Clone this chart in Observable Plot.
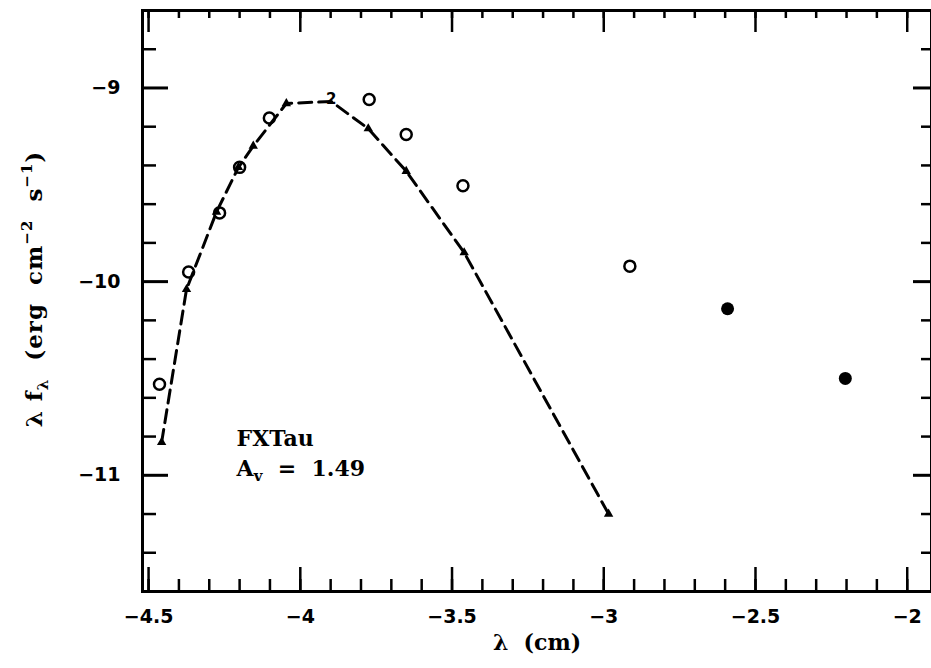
<!DOCTYPE html>
<html><head><meta charset="utf-8">
<script src="https://cdn.jsdelivr.net/npm/d3@7"></script>
<script src="https://cdn.jsdelivr.net/npm/@observablehq/plot@0.6"></script>
<style>body{margin:0;background:#fff} svg{display:block} svg text{white-space:pre}</style>
</head><body><div id="chart"></div>
<script>
// Model (dashed line) vertices
const modelX = [-4.457, -4.375, -4.276, -4.204, -4.155, -4.046, -3.898, -3.776, -3.651, -3.460, -2.984];
const modelY = [-10.83, -10.04, -9.64, -9.41, -9.30, -9.08, -9.07, -9.21, -9.43, -9.85, -11.20];
// Observed points: open circles
const openX = [-4.464, -4.368, -4.266, -4.200, -4.102, -3.773, -3.651, -3.464, -2.914];
const openY = [-10.53, -9.95, -9.645, -9.41, -9.155, -9.06, -9.24, -9.505, -9.92];
// Observed points: filled circles
const filledX = [-2.592, -2.204];
const filledY = [-10.14, -10.50];
// special "2" symbol on the model curve
const twoX = [-3.898];
const twoY = [-9.072];
// annotation
const noteX = [-4.21, -4.21];
const noteY = [-10.81, -10.965];
const noteText = ["FXTau", "Av = 1.49"];
// axes
const xDomain = [-4.52, -1.92];
const yDomain = [-11.6, -8.6];
const xMajor = [-4.5, -4, -3.5, -3, -2.5, -2];
const yMajor = [-11, -10, -9];
const xMinor = d3.range(-45, -19).map(d => d / 10);
const yMinor = [-11.4, -11.2, -10.8, -10.6, -10.4, -10.2, -9.8, -9.6, -9.4, -9.2, -8.8];
const xLabel = "λ  (cm)";
const yLabel = "λ fλ  (erg  cm−2  s−1)";

const model = modelX.map((x, i) => ({x, y: modelY[i]}));
const openPts = openX.map((x, i) => ({x, y: openY[i]}));
const filledPts = filledX.map((x, i) => ({x, y: filledY[i]}));
const twoPts = twoX.map((x, i) => ({x, y: twoY[i], t: "2"}));
const notes = noteX.map((x, i) => ({x, y: noteY[i], t: noteText[i]}));

const ML = 142, MR = 0, MT = 10, MB = 77, WIDTH = 931, HEIGHT = 668;
const W = WIDTH - ML - MR, H = HEIGHT - MT - MB;
const fmt = d => (d < 0 ? "−" : "") + Math.abs(d);

const chart = Plot.plot({
  width: WIDTH, height: HEIGHT,
  marginLeft: ML, marginRight: MR, marginTop: MT, marginBottom: MB,
  x: {domain: xDomain},
  y: {domain: yDomain},
  style: {background: "white", color: "black", fontFamily: "DejaVu Sans"},
  marks: [
    Plot.frame({stroke: "black", strokeWidth: 3}),
    // left ticks
    Plot.tickY(yMinor, {y: d => d, stroke: "black", strokeWidth: 2.5, insetRight: W - 14}),
    Plot.tickY(yMajor, {y: d => d, stroke: "black", strokeWidth: 3, insetRight: W - 26}),
    // right ticks
    Plot.tickY(yMinor, {y: d => d, stroke: "black", strokeWidth: 2.5, insetLeft: W - 10}),
    Plot.tickY(yMajor, {y: d => d, stroke: "black", strokeWidth: 3, insetLeft: W - 18}),
    // bottom ticks
    Plot.tickX(xMinor, {x: d => d, stroke: "black", strokeWidth: 2.5, insetTop: H - 12}),
    Plot.tickX(xMajor, {x: d => d, stroke: "black", strokeWidth: 2.5, insetTop: H - 24}),
    // top ticks
    Plot.tickX(xMinor, {x: d => d, stroke: "black", strokeWidth: 2.5, insetBottom: H - 8}),
    Plot.tickX(xMajor, {x: d => d, stroke: "black", strokeWidth: 2.5, insetBottom: H - 22}),
    Plot.axisX({ticks: xMajor, tickFormat: fmt, tickSize: 0, tickPadding: 18, label: null, fontSize: 19, fontWeight: "bold", fontFamily: "DejaVu Sans"}),
    Plot.axisY({ticks: yMajor, tickFormat: fmt, tickSize: 0, tickPadding: 22, label: null, fontSize: 19, fontWeight: "bold", fontFamily: "DejaVu Sans"}),
    Plot.text([xLabel], {text: d => d, frameAnchor: "bottom", dy: 58, fontSize: 22, fontWeight: "bold", fontFamily: "DejaVu Serif"}),
    Plot.text([yLabel], {text: d => d, frameAnchor: "left", textAnchor: "middle", rotate: -90, dx: -108, dy: -12, fontSize: 23, fontWeight: "bold", fontFamily: "DejaVu Serif"}),
    // model curve
    Plot.line(model, {x: "x", y: "y", stroke: "black", strokeWidth: 3, strokeDasharray: "13,7"}),
    Plot.dot(model.filter((d, i) => i !== 6), {x: "x", y: "y", symbol: "triangle", r: 3.5, fill: "black"}),
    Plot.text(twoPts, {x: "x", y: "y", text: "t", fontSize: 15, fontWeight: "bold", fontFamily: "DejaVu Sans", dy: -3}),
    // observations
    Plot.dot(openPts, {x: "x", y: "y", r: 5.5, stroke: "black", strokeWidth: 2.5, fill: "none"}),
    Plot.dot(filledPts, {x: "x", y: "y", r: 6.5, fill: "black"}),
    // annotation
    Plot.text(notes, {x: "x", y: "y", text: "t", textAnchor: "start", fontSize: 22, fontWeight: "bold", fontFamily: "DejaVu Serif"})
  ]
});
document.getElementById("chart").appendChild(chart);

// subscripts / superscripts
const NS = "http://www.w3.org/2000/svg";
function rich(el, parts) {
  while (el.firstChild) el.removeChild(el.firstChild);
  for (const [txt, dy, size] of parts) {
    const t = document.createElementNS(NS, "tspan");
    t.textContent = txt;
    if (dy) t.setAttribute("dy", dy);
    if (size) t.setAttribute("font-size", size);
    el.appendChild(t);
  }
}
for (const el of chart.querySelectorAll("text")) {
  const s = el.textContent;
  if (s === yLabel) {
    el.setAttribute("letter-spacing", "1");
    rich(el, [["λ f", 0, 0], ["λ", 6, 15], ["  (erg  cm", -6, 0], ["−2", -10, 15], ["  s", 10, 0], ["−1", -10, 15], [")", 10, 0]]);
  } else if (s === noteText[1]) {
    rich(el, [["A", 0, 0], ["v", 5, 15], ["  =  1.49", -5, 0]]);
  }
}
</script>
</body></html>
